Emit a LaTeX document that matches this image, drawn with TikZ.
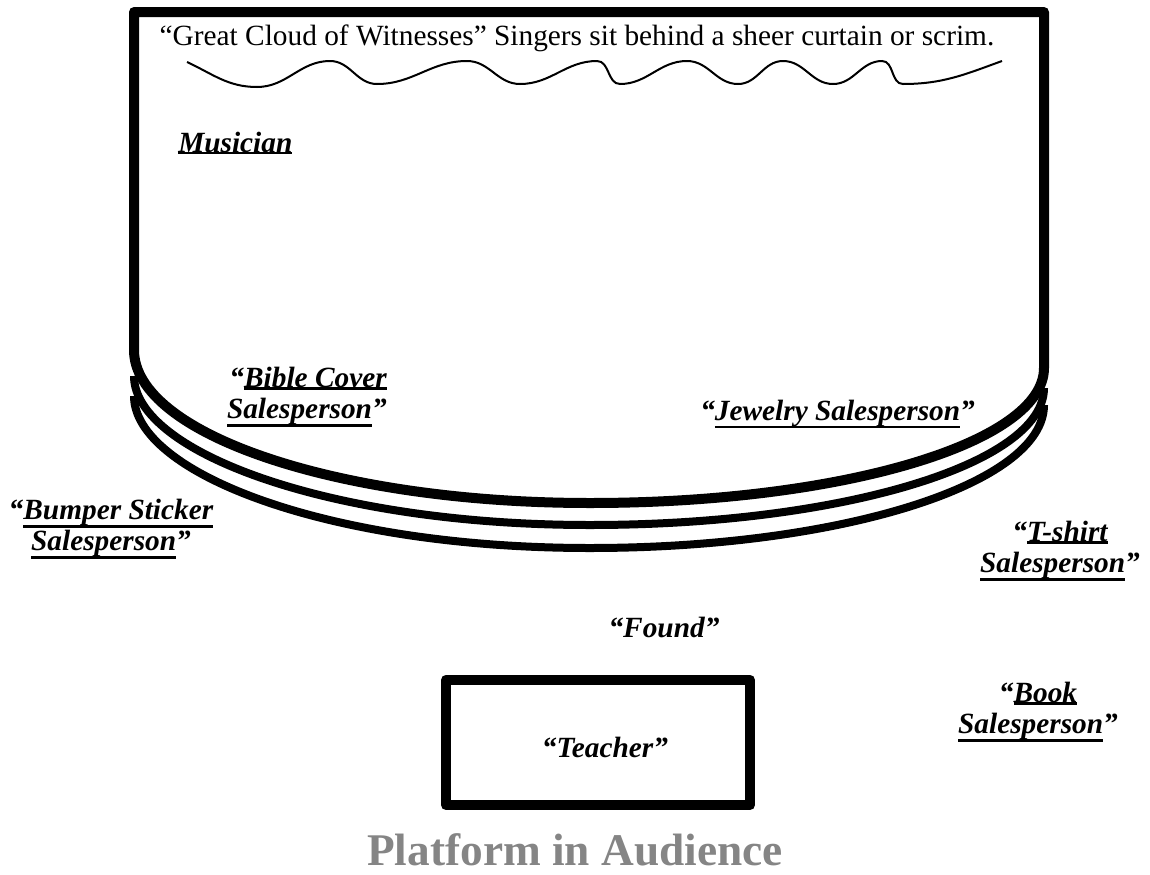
\documentclass[tikz,border=0pt]{standalone}
\usepackage{fontspec}
\setmainfont{Liberation Serif}
\usetikzlibrary{positioning}
% thick underline under words, sitting below the descenders
\newcommand{\ulword}[1]{\setbox0=\hbox{#1}\leavevmode\rlap{\rule[\dimexpr-\dp0-1.4pt\relax]{\wd0}{2pt}}\box0}
\tikzset{
  wall/.style={line width=7.5pt, line join=round},
  tier/.style={line width=6pt},
  scrim/.style={line width=1.5pt},
  note/.style={font=\fontsize{22}{23.3}\selectfont, inner sep=0pt},
  role/.style={note, font=\fontsize{22}{23.3}\selectfont\bfseries\itshape},
  platbox/.style={wall, draw, minimum width=228pt, minimum height=94pt, inner sep=0pt},
}

\begin{document}
\begin{tikzpicture}[x=0.75pt, y=-0.75pt]
  \useasboundingbox (0,0) rectangle (1150,875);
  % stage with its front edge, and the two steps below it
  \draw[wall] (134,350) -- (134,12) -- (1044,12) -- (1044,368)
    .. controls (1044,443) and (841,503) .. (590,503)
    .. controls (338,503) and (134,434) .. (134,350) -- cycle;
  \draw[tier] (134,376) .. controls (134,452) and (330,525) .. (590,525)
    .. controls (841,525) and (1044,464) .. (1044,388);
  \draw[tier] (134,396) .. controls (134,472) and (325,548) .. (590,548)
    .. controls (841,548) and (1044,484) .. (1044,405);
  % curtain
  \draw[scrim] (187,62) to[out=-25,in=180] (257,87) to[out=0,in=180] (330,61)
    to[out=0,in=180] (377,84) to[out=0,in=180] (467,61) to[out=0,in=180] (520,84)
    to[out=0,in=180] (597,61) to[out=0,in=180] (620,84) to[out=0,in=180] (687,61)
    to[out=0,in=180] (738,84) to[out=0,in=180] (783,61) to[out=0,in=180] (833,84)
    to[out=0,in=180] (882,61) to[out=0,in=180] (903,84) to[out=0,in=-160] (1002,61);

  \node[note, anchor=base] (singers) at (577,45)
    {“Great Cloud of Witnesses” Singers sit behind a sheer curtain or scrim.};
  \node[role, anchor=base west] (musician) at (178,152) {\ulword{Musician}};
  \node[role, align=right, anchor=north east] (bible) at (387,367)
    {“\ulword{Bible Cover}\\\ulword{Salesperson}”};
  \node[role, anchor=base west] (jewelry) at (700,420) {“\ulword{Jewelry Salesperson}”};
  \node[role, align=center, anchor=north] (bumper) at (111,499)
    {“\ulword{Bumper Sticker}\\\ulword{Salesperson}”};
  \node[role, align=center, anchor=north] (tshirt) at (1060,521)
    {“\ulword{T-shirt}\\\ulword{Salesperson}”};
  \node[role, anchor=base] (found) at (664,637) {“Found”};
  \node[role, align=center, anchor=north] (book) at (1038,682)
    {“\ulword{Book}\\\ulword{Salesperson}”};
  \node[platbox] (platform) at (598,742.5) {};
  \node[role, anchor=base] (teacher) at (605,757) {“Teacher”};
  \node[anchor=base, text=black!48, inner sep=0pt,
        font=\fontsize{34}{40}\selectfont\bfseries] (title) at (575,865) {Platform in Audience};
\end{tikzpicture}
\end{document}
